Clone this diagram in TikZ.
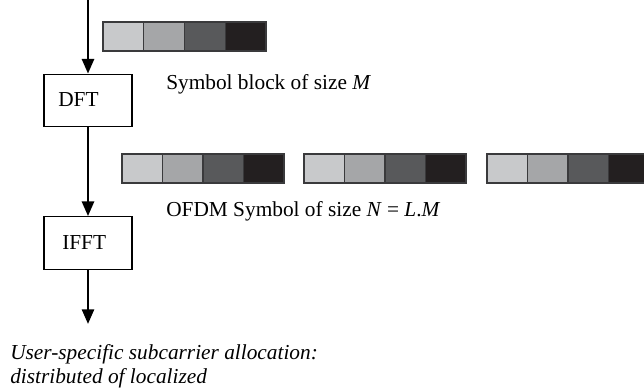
\documentclass[tikz,border=0pt]{standalone}
\usepackage{fontspec}
\setmainfont{Liberation Serif}
\usetikzlibrary{arrows.meta}
\definecolor{cA}{HTML}{C8C9CB}
\definecolor{cB}{HTML}{A5A6A8}
\definecolor{cC}{HTML}{58595B}
\definecolor{cD}{HTML}{231F20}
\definecolor{edge}{HTML}{3A3A3C}
\tikzset{
  blockbox/.style={draw=black, line width=0.8pt, minimum width=66pt, minimum height=39.5pt, inner sep=0pt},
  flow/.style={line width=1.9pt, -{Triangle[length=11pt,width=9pt]}},
  cell/.style={draw=edge, line width=0.9pt},
  lbl/.style={font=\fontsize{16}{18}\selectfont, anchor=base west, inner sep=0pt},
}
\newcommand{\symblock}[4]{% x0, y0, cell width, height (px)
  \fill[cA] (#1,#2) rectangle ++(#3,#4);
  \fill[cB] (#1+#3,#2) rectangle ++(#3,#4);
  \fill[cC] (#1+2*#3,#2) rectangle ++(#3,#4);
  \fill[cD] (#1+3*#3,#2) rectangle ++(#3,#4);
  \foreach \k in {0,1,2,3} {\draw[cell] (#1+\k*#3,#2) rectangle ++(#3,#4);}
}
\begin{document}
\begin{tikzpicture}[x=0.75pt,y=-0.75pt]
\useasboundingbox (0,0) rectangle (644,390);
\begin{scope}
\clip (0,0) rectangle (644,390);
\coordinate (top) at (88,0);
\node[blockbox] (dft) at (88,100.5) {};
\node[lbl] (dfttext) at (58,106) {DFT};
\node[blockbox] (ifft) at (88,243) {};
\node[lbl] (iffttext) at (62,249) {IFFT};
\coordinate (out) at (88,324);
\draw[flow] (top) -- (dft.north);
\draw[flow] (dft.south) -- (ifft.north);
\draw[flow] (ifft.south) -- (out);
\symblock{103}{22}{40.75}{29}
\node[lbl] (l1) at (166,89) {Symbol block of size \textit{M}};
\symblock{122}{154}{40.5}{29}
\symblock{304}{154}{40.5}{29}
\symblock{487}{154}{40.5}{29}
\node[lbl] (l2) at (166,216) {OFDM Symbol of size \textit{N} = \textit{L}.\textit{M}};
\node[lbl, align=left, font=\fontsize{16}{18}\selectfont\itshape] (l3) at (10,383) {User-specific subcarrier allocation:\\distributed of localized};
\end{scope}
\end{tikzpicture}
\end{document}
